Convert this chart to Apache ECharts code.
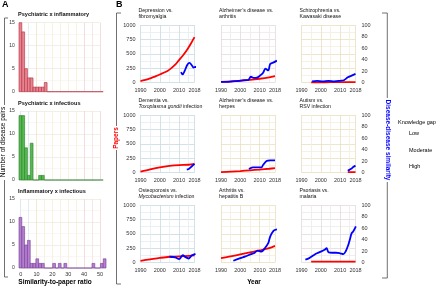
<!DOCTYPE html>
<html><head><meta charset="utf-8">
<script src="https://cdn.jsdelivr.net/npm/echarts@6/dist/echarts.min.js"></script>
<style>html,body{margin:0;padding:0;background:#fff}#c{width:440px;height:287px}</style>
</head><body><div id="c"></div>
<script>
// ---------- Panel A: histograms ----------
const histBinStart = -1.07;
const histBinWidth = 1.77;
const histTitles = ['Psychiatric x inflammatory', 'Psychiatric x infectious', 'Inflammatory x infectious'];
const countsPsyInflam = [15,13,5,3,3,1,1,1,1,2,0,0,0,0,0,0,0,0,0,0,0,0,0,0,0,0,0,0,0,0];
const countsPsyInfect = [14,14,7,1,8,0,0,1,1,0,0,0,0,0,0,0,0,0,0,0,0,0,0,0,0,0,0,0,0,0];
const countsInflamInfect = [11,9,5,6,1,1,2,1,1,0,0,0,1,0,1,0,1,0,0,0,0,0,0,0,0,0,1,0,0,1,2];
const histXTicks = [0,10,20,30,40,50];
const histYTicks = [0,5,10,15];

// ---------- Panel B: papers (red) and similarity (blue) ----------
const panelTitles = [
  'Depression vs.\nfibromyalgia',
  'Alzheimer\u2019s disease vs.\narthritis',
  'Schizophrenia vs.\nKawasaki disease',
  'Dementia vs.\n{i|Toxoplasma gondii} infection',
  'Alzheimer\u2019s disease vs.\nherpes',
  'Autism vs.\nRSV infection',
  'Osteoporosis vs.\n{i|Mycobacterium} infection',
  'Arthritis vs.\nhepatitis B',
  'Psoriasis vs.\nmalaria'
];
const panelGap = ['low','high','mid','low','mid','mid','low','mid','high'];

const papersYears1 = [1990,1992,1994,1996,1998,2000,2002,2004,2006,2008,2010,2012,2014,2016,2018];
const papers1 = [25,40,60,85,110,140,170,200,250,310,390,470,560,670,790];
const simYears1 = [2011,2011.8,2013,2014.3,2015.4,2016.6,2017.5,2018.4,2019.5];
const sim1 = [18,14,21,31,34,30,26,27,27];

const papersYears2 = [1990,1995,2000,2005,2010,2015,2018];
const papers2 = [10,20,30,45,65,90,110];
const simYears2 = [1990,1993,1996,1999,2002,2004,2005.5,2007,2009,2011,2012,2013,2014.5,2015.5,2017.3,2019];
const sim2 = [1,1,2,3,4,4,10,8,9,14,18,24,21,32,35,38];

const papersYears3 = [1995,2000,2005,2010,2015,2018];
const papers3 = [3,4,5,6,7,8];
const simYears3 = [1995.5,1998,2001,2004,2007,2010,2012,2014,2016,2018];
const sim3 = [2,3,2,3,2,3,4,9,12,15];

const papersYears4 = [1990,1995,2000,2005,2010,2015,2018];
const papers4 = [15,55,90,115,130,135,150];
const simYears4 = [2014,2015,2016,2017,2018];
const sim4 = [5,6,9,12,15];

const papersYears5 = [1990,1995,2000,2005,2010,2015,2018];
const papers5 = [5,15,25,38,50,65,75];
const simYears5 = [2004.5,2006.4,2008.2,2011,2011.8,2013.6,2015.5,2018];
const sim5 = [6,9,9,9,13,20,21,21];

const papersYears6 = [2014,2016,2018];
const papers6 = [5,5,5];
const simYears6 = [2014,2015,2016,2017,2018];
const sim6 = [3,5,7,10,12];

const papersYears7 = [1990,1995,2000,2005,2010,2015,2018];
const papers7 = [30,55,80,100,105,115,125];
const simYears7 = [2005,2008,2010,2012,2013,2015,2016.5,2018.5];
const sim7 = [10,9,6,13,10,7,12,15];

const papersYears8 = [1990,1995,2000,2005,2010,2015,2018];
const papers8 = [75,105,140,175,210,250,290];
const simYears8 = [1996.4,2000,2002.7,2005.5,2007,2009,2011,2012.7,2014.5,2015.5,2017.3,2019];
const sim8 = [3,7.6,10.5,14.5,16,20.8,19,24.8,33.6,45,55.5,57.8];

const papersYears9 = [1995,2000,2005,2010,2015,2018];
const papers9 = [15,15,15,15,15,15];
const simYears9 = [1992,1994,1996,1998,2000,2002,2003,2004,2006,2008,2010,2011.7,2013,2014.2,2015,2016,2016.8,2018.2];
const sim9 = [5,7.6,12,16,19,22,25,18,17,17,16,14.5,20,30,39,51,54,63];

const papersYearsAll = [papersYears1,papersYears2,papersYears3,papersYears4,papersYears5,papersYears6,papersYears7,papersYears8,papersYears9];
const papersAll = [papers1,papers2,papers3,papers4,papers5,papers6,papers7,papers8,papers9];
const simYearsAll = [simYears1,simYears2,simYears3,simYears4,simYears5,simYears6,simYears7,simYears8,simYears9];
const simAll = [sim1,sim2,sim3,sim4,sim5,sim6,sim7,sim8,sim9];

const yearLabels = [1990,2000,2010,2018];
const paperLabels = [0,250,500,750,1000];
const simLabels = [0,20,40,60,80,100];

// ---------- styling ----------
const FONT = 'Liberation Sans, Arial, Helvetica, sans-serif';
const gapColors = {
  low:  ['#c9dbe2', '#e3edf1'],
  mid:  ['#e8dfc0', '#f3eedd'],
  high: ['#e2dada', '#f0eaea']
};
const histColors = [
  {fill:'#e8848f', stroke:'#b02e40'},
  {fill:'#55bb50', stroke:'#2a7a2a'},
  {fill:'#b47fd0', stroke:'#723a90'}
];
const histVLineColors = ['#cfe0e8','#d6e5ec','#ece2bd','#f3ecd6','#f3ecd6','#f3ecd6','#f3ecd6','#f3ecd6','#efd0d0','#f3dddd','#efd0d0'];

const grids = [], xAxes = [], yAxes = [], series = [], graphics = [];

// Panel A grids
const aTop = [22.7, 111, 199];
const aCounts = [countsPsyInflam, countsPsyInfect, countsInflamInfect];
for (let r = 0; r < 3; r++) {
  const gi = grids.length;
  grids.push({left: 20.7, top: aTop[r], width: 79.3, height: 69});
  xAxes.push({type:'value', gridIndex: gi, min: 0, max: 50, interval: 5,
    axisLine:{show:false}, axisTick:{show:false},
    axisLabel:{show: r === 2, fontSize: 5.5, color:'#333', fontFamily: FONT, margin: 3,
      formatter: v => histXTicks.includes(v) ? String(v) : ''},
    splitLine:{show:true, lineStyle:{color: histVLineColors, width: 0.7}}});
  yAxes.push({type:'value', gridIndex: gi, min: 0, max: 15, interval: 2.5,
    axisLine:{show:false}, axisTick:{show:false},
    axisLabel:{fontSize: 5, color:'#333', fontFamily: FONT, margin: 6,
      formatter: v => histYTicks.includes(v) ? String(v) : ''},
    splitLine:{show:true, lineStyle:{color:['#ece8e0','#f5f3ee'], width: 0.7}}});
  const col = histColors[r];
  const counts = aCounts[r];
  series.push({
    type:'custom', xAxisIndex: gi, yAxisIndex: gi, clip: false,
    data: counts.map((c, i) => [histBinStart + i*histBinWidth, histBinStart + (i+1)*histBinWidth, c]),
    encode:{x:[0,1], y:2},
    renderItem: function(params, api) {
      const p0 = api.coord([api.value(0), 0]);
      const p1 = api.coord([api.value(1), api.value(2)]);
      return {type:'rect', shape:{x:p0[0], y:p1[1], width:p1[0]-p0[0], height:p0[1]-p1[1]},
        style:{fill: col.fill, stroke: col.stroke, lineWidth: 0.6}};
    }
  });
  graphics.push({type:'text', left: 18, top: aTop[r] - 11, style:{text: histTitles[r], font: 'bold 5.6px ' + FONT, fill:'#111'}});
}

// Panel B grids
const bLeft = [140.5, 221, 301.5];
const bTop = [25, 115, 205];
const bW = 54, bH = 57.5;
for (let p = 0; p < 9; p++) {
  const r = Math.floor(p/3), c = p % 3;
  const gi = grids.length;
  const gc = gapColors[panelGap[p]];
  grids.push({left: bLeft[c], top: bTop[r], width: bW, height: bH});
  xAxes.push({type:'value', gridIndex: gi, min: 1990, max: 2018, interval: 5,
    axisLine:{show:false}, axisTick:{show:false},
    axisLabel:{fontSize: 5.5, color:'#333', fontFamily: FONT, margin: 5,
      showMinLabel: true, showMaxLabel: true,
      formatter: v => yearLabels.includes(v) ? String(v) : ''},
    splitLine:{show:true, lineStyle:{color:[gc[0], gc[1]], width: 0.8}}});
  const yl = yAxes.length;
  yAxes.push({type:'value', gridIndex: gi, position:'left', min: 0, max: 1000, interval: 125,
    axisLine:{show:false}, axisTick:{show:false},
    axisLabel:{show: c === 0, fontSize: 5.5, color:'#333', fontFamily: FONT, margin: 5,
      formatter: v => paperLabels.includes(v) ? String(v) : ''},
    splitLine:{show:true, lineStyle:{color:[gc[0], gc[1]], width: 0.8}}});
  yAxes.push({type:'value', gridIndex: gi, position:'right', min: 0, max: 100, interval: 10,
    axisLine:{show:false}, axisTick:{show:false}, splitLine:{show:false},
    axisLabel:{show: c === 2, fontSize: 5.5, color:'#333', fontFamily: FONT, margin: 6,
      formatter: v => simLabels.includes(v) ? String(v) : ''}});
  series.push({type:'line', xAxisIndex: gi, yAxisIndex: yl, showSymbol:false, clip:false, smooth: 0.3,
    lineStyle:{color:'#ff0000', width: 1.8}, z: 3,
    data: papersYearsAll[p].map((y, i) => [y, papersAll[p][i]])});
  series.push({type:'line', xAxisIndex: gi, yAxisIndex: yl + 1, showSymbol:false, clip:false, smooth: 0.3,
    lineStyle:{color:'#0000ff', width: 1.8}, z: 4,
    data: simYearsAll[p].map((y, i) => [y, simAll[p][i]])});
  graphics.push({type:'text', left: bLeft[c] - 2, top: bTop[r] - 18,
    style:{text: panelTitles[p], font: '5.2px ' + FONT, fill:'#111', lineHeight: 6.2,
      rich:{i:{fontStyle:'italic', fontSize: 5.2, fontFamily: FONT, fill:'#111'}}}});
}

// panel letters and axis names
graphics.push({type:'text', left: 2, top: 0, style:{text:'A', font:'bold 9px ' + FONT, fill:'#000'}});
graphics.push({type:'text', left: 116, top: 0, style:{text:'B', font:'bold 9px ' + FONT, fill:'#000'}});
graphics.push({type:'text', x: 55, y: 282, style:{text:'Similarity-to-paper ratio', font:'bold 6.5px ' + FONT, fill:'#000', align:'center', verticalAlign:'middle'}});
graphics.push({type:'text', x: 254, y: 282, style:{text:'Year', font:'bold 6.5px ' + FONT, fill:'#000', align:'center', verticalAlign:'middle'}});
graphics.push({type:'text', x: 3.5, y: 142, rotation: Math.PI/2, style:{text:'Number of disease pairs', font:'6.5px ' + FONT, fill:'#000', align:'center', verticalAlign:'middle'}});
graphics.push({type:'text', x: 116, y: 138, rotation: Math.PI/2, style:{text:'Papers', font:'bold 6.5px ' + FONT, fill:'#ff0000', align:'center', verticalAlign:'middle'}});
graphics.push({type:'text', x: 388, y: 140, rotation: -Math.PI/2, style:{text:'Disease-disease similarity', font:'bold 6.5px ' + FONT, fill:'#0000ff', align:'center', verticalAlign:'middle'}});
graphics.push({type:'text', left: 398, top: 119, style:{text:'Knowledge gap', font:'5.5px ' + FONT, fill:'#000'}});
graphics.push({type:'text', left: 409, top: 130, style:{text:'Low', font:'5.5px ' + FONT, fill:'#000'}});
graphics.push({type:'text', left: 409, top: 147, style:{text:'Moderate', font:'5.5px ' + FONT, fill:'#000'}});
graphics.push({type:'text', left: 409, top: 163, style:{text:'High', font:'5.5px ' + FONT, fill:'#000'}});

// bracket lines
const bracket = (pts) => graphics.push({type:'polyline', shape:{points: pts}, style:{stroke:'#333', lineWidth: 0.7, fill: null}});
bracket([[8,18],[4.5,18],[4.5,105]]);
bracket([[4.5,180],[4.5,277],[8,277]]);
bracket([[121,13],[116.5,13],[116.5,126]]);
bracket([[116.5,150],[116.5,284],[121,284]]);
bracket([[382,13],[387.3,13],[387.3,98]]);
bracket([[387.3,182],[387.3,278],[382,278]]);

const chart = echarts.init(document.getElementById('c'), null, {renderer:'canvas'});
chart.setOption({
  animation: false,
  backgroundColor: '#fff',
  grid: grids, xAxis: xAxes, yAxis: yAxes, series: series,
  graphic: {elements: graphics}
});
</script></body></html>
